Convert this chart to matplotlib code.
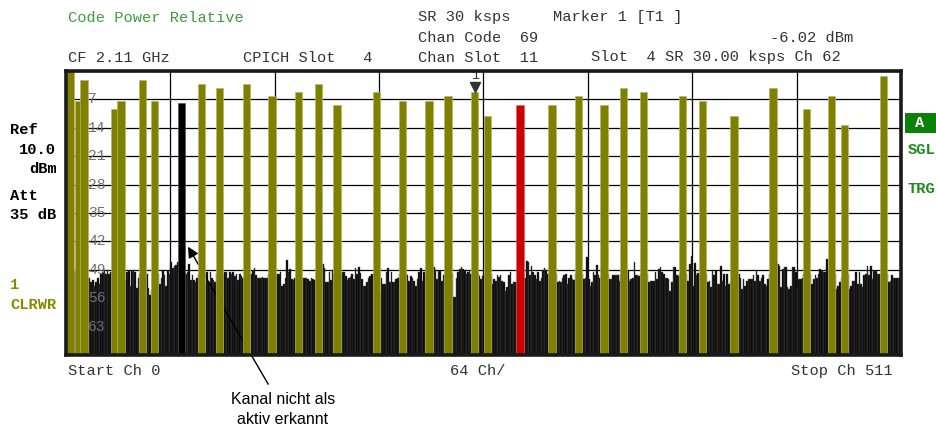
import numpy as np
import matplotlib
matplotlib.use("Agg")
import matplotlib.pyplot as plt
from matplotlib import transforms

# ---------------- data ----------------
n_channels = 512
ref_top, ref_bottom = 0, -70
grid_step_db = 7
grid_step_ch = 64

active_channels = [2.6, 7.7, 11.0, 30.0, 33.8, 47.0, 54.4,
                   83.0, 94.3, 110.7, 126.4, 142.5, 154.7, 166.2, 190.2, 206.5, 222.6, 234.2, 250.6, 258.3,
                   298.0, 314.3, 329.8, 342.0, 354.2, 378.0, 390.4, 409.7, 433.6, 454.0, 469.5, 477.5, 501.4]
active_levels = [0.0, -7.3, -2.3, -9.3, -7.3, -2.3, -7.3,
                 -3.3, -4.3, -3.3, -6.2, -5.2, -3.3, -8.3, -5.2, -7.3, -7.3, -6.2, -5.2, -11.2,
                 -8.3, -6.2, -8.3, -4.3, -5.2, -6.2, -7.3, -11.2, -4.3, -9.3, -6.2, -13.2, -1.2]

undetected_channels = [70.7]
undetected_levels = [-7.9]

selected_channels = [278.4]
selected_levels = [-8.3]

marker_channel = 250.6
marker_level = -5.2

noise_levels = [
    -50, -50, -50, -50, -50, -49.6, -49.6, -50, -50, -50, -50, -50, -50, -51,        # 0-13
    -51, -52, -51.5, -53, -52, -51,                                                   # 14-19
    -52.5, -50, -49.5, -49, -50, -49, -50, -49.5, -51,                                # 20-28
    -50, -50, -50, -50, -50, -50,                                                     # 29-34
    -52.5, -51.5, -49.5, -49.3, -53, -49.3, -49, -49.5, -53.5, -51,                   # 35-44
    -50, -50, -50, -50, -50,                                                          # 45-49
    -53.5, -55.3, -54,                                                                # 50-52
    -50, -50, -50, -50,                                                               # 53-56
    -52.5, -51, -49, -50.4, -53, -49.2, -50, -47, -48.5, -48, -47.7, -47,             # 57-68
    -50, -50, -50, -50,                                                               # 69-72
    -50, -49.5, -47.5, -51.5, -50.4, -51.5, -52, -51,                                 # 73-80
    -50, -50, -50, -50,                                                               # 81-84
    -52.5, -49.5, -52, -49.5, -51, -51.5, -52,                                        # 85-91
    -50, -50, -50, -50, -50,                                                          # 92-96
    -49.5, -49.5, -51, -49.5, -50, -49.5, -50.5, -50, -51.5, -50, -50.5, -51,         # 97-108
    -50, -50, -50, -50,                                                               # 109-112
    -50, -49.3, -48.5, -50.4, -51, -51, -51, -50.8, -51, -51, -51,                    # 113-123
    -50, -50, -50, -50, -50,                                                          # 124-128
    -50, -50, -49.6, -52.9, -52.5, -51, -46.7, -49.5, -48.7, -51.3, -51.5, -51,       # 129-140
    -50, -50, -50, -50,                                                               # 141-144
    -51, -51, -51, -51.3, -51.7, -51, -51.3, -51.5,                                   # 145-152
    -50, -50, -50, -50,                                                               # 153-156
    -47.5, -48.5, -52, -52, -49.5, -51.5, -49,                                        # 157-163
    -50, -50, -50, -50, -50,                                                          # 164-168
    -49.5, -49.5, -50.5, -51.5, -51, -50.7, -50, -51.3, -48.5, -50,
    -48.2, -49.8, -51.3, -53, -53, -52, -51, -50.5, -50,                              # 169-187
    -50, -50, -50, -50,                                                               # 188-191
    -54.5, -51, -52.5, -52.5, -49.6, -48.5, -52, -49.6, -52, -52, -51.3, -51,         # 192-203
    -50, -50, -50, -50, -50,                                                          # 204-208
    -50.2, -51.7, -50.5, -51, -51.7, -53, -51.3, -49.6, -48.5, -51.7, -49.6, -50,     # 209-220
    -50, -50, -50, -50,                                                               # 221-224
    -48.4, -49, -51.3, -49.3, -49.3, -51.7, -50.4,                                    # 225-231
    -50, -50, -50, -50, -50,                                                          # 232-236
    -55.8, -55.8, -51, -49.6, -48.8, -48.4, -48.8, -49.3, -50, -49.6, -49.3, -50,     # 237-248
    -50, -50, -50, -50,                                                               # 249-252
    -50.5, -51.3, -50.5,                                                              # 253-255
    -50, -50, -50, -50, -50,                                                          # 256-260
    -52.5, -51.3, -51.7, -50.4, -50.7, -50.4, -51.7, -52, -54.2, -53.3,
    -50.4, -49.6, -52.5, -52, -52, -52,                                               # 261-276
    -50, -50, -50, -50,                                                               # 277-280
    -51, -46.8, -47, -50.4, -48, -49.6, -50.4, -51.3, -49.6, -51.7, -51, -49,
    -48.5, -49, -50,                                                                  # 281-295
    -50, -50, -50, -50, -50,                                                          # 296-300
    -52, -51.7, -52, -51, -50.4, -50, -52.5, -51, -50.2, -51.3, -51.5,                # 301-311
    -50, -50, -50, -50, -50,                                                          # 312-316
    -51.3, -51, -45.8, -51.3, -52.9, -52, -49.6, -50.4, -47.7, -50.2, -51,            # 317-327
    -50, -50, -50, -50, -50,                                                          # 328-332
    -51.3, -51.3, -50.4, -50.4, -50.4, -50.4, -51.7,                                  # 333-339
    -50, -50, -50, -50,                                                               # 340-343
    -49, -51.7, -51.3, -51, -47, -50.2, -50.2, -50.5,                                 # 344-351
    -50, -50, -50, -50, -50,                                                          # 352-356
    -52, -51.7, -51.7, -51.7, -49.6, -51.3, -48.8, -48.4, -49.6, -50,
    -51, -51, -51.3, -54.2, -52, -48.4, -48.4, -50.4, -50.5,                          # 357-375
    -50, -50, -50, -50, -50,                                                          # 376-380
    -51.7, -47.6, -45.5, -52.9, -47.3, -50.2, -49.8,                                  # 381-387
    -50, -50, -50, -50, -50,                                                          # 388-392
    -52, -51.7, -53.3, -49, -50.4, -49.3, -52.5, -52.5, -48, -51.7, -50, -52.9,
    -50, -52.5, -52,                                                                  # 393-407
    -50, -50, -50, -50, -50,                                                          # 408-412
    -51, -53.8, -51.3, -52.9, -51.7, -51.3, -51.3, -51.3, -50.4, -51.7, -49.3, -50.2,
    -51.7, -51, -50.4, -52.5, -52.9, -51.3,                                           # 413-430
    -50, -50, -50, -50, -50,                                                          # 431-435
    -47.6, -48, -53.3, -48.8, -48.4, -48.4, -53.3, -53.8, -52.9, -48.4, -48.4, -49.6,
    -53.8, -51.3, -51.3, -51,                                                         # 436-451
    -50, -50, -50, -50, -50,                                                          # 452-456
    -52.5, -51.3, -50.4, -51, -50, -48.8, -49.3, -49.6, -49.6, -46.3, -49,            # 457-467
    -50, -50, -50, -50,                                                               # 468-471
    -53.8, -52.9, -52, -51,                                                           # 472-475
    -50, -50, -50, -50,                                                               # 476-479
    -53.8, -52.9, -51.7, -51.7, -49.6, -52.5, -49.6, -52.5, -53.3, -50.4, -50, -48,
    -50.4, -48, -51.3, -49.3, -49.3, -50, -50,                                        # 480-498
    -50, -50, -50, -50, -50,                                                          # 499-503
    -52, -51.7, -50.4, -51, -51, -51, -51, -51,                                       # 504-511
]

y_tick_labels = ["7", "14", "21", "28", "35", "42", "49", "56", "63"]

# ---------------- figure ----------------
W, H = 937, 430
fig = plt.figure(figsize=(W / 100, H / 100), dpi=100)
fig.patch.set_facecolor("white")


def fp(x, y):
    return (x / W, 1 - y / H)


left, right, top, bottom = 66, 901, 71, 355
ax = fig.add_axes([left / W, 1 - bottom / H, (right - left) / W, (bottom - top) / H])
ax.set_xlim(0, n_channels)
ax.set_ylim(ref_bottom, ref_top)
ax.set_xticks(np.arange(0, n_channels + 1, grid_step_ch))
ax.set_yticks(np.arange(ref_bottom, ref_top + 1, grid_step_db))
ax.tick_params(length=0, labelbottom=False, labelleft=False)
ax.grid(True, color="black", lw=0.9)
ax.set_axisbelow(True)
for s in ax.spines.values():
    s.set_color("#1a1a1a")
    s.set_linewidth(2.6)
    s.set_zorder(10)

olive = "#808000"
bar_w = 4.5

# noise floor (code channels not in use)
nx = np.arange(len(noise_levels)) + 0.5
nl = np.array(noise_levels)
ax.bar(nx, nl - ref_bottom, bottom=ref_bottom, width=1.0, color="#000000",
       edgecolor="#4a4a4a", linewidth=0.3, zorder=2)

# y level labels inside the diagram
for lab, lv in zip(y_tick_labels, np.arange(-grid_step_db, ref_bottom, -grid_step_db)):
    ax.text(13.6, lv, lab, color="#707070", fontsize=10.5, family="Liberation Mono",
            ha="left", va="center", zorder=3)

# active channels
for c, lv in zip(active_channels, active_levels):
    ax.bar(c, lv - ref_bottom, bottom=ref_bottom, width=bar_w, color=olive,
           edgecolor="#b5b56a", linewidth=0.5, zorder=4)
ax.bar(undetected_channels, np.array(undetected_levels) - ref_bottom, bottom=ref_bottom,
       width=bar_w, color="black", edgecolor="#555555", linewidth=0.5, zorder=4)
ax.bar(selected_channels, np.array(selected_levels) - ref_bottom, bottom=ref_bottom,
       width=bar_w, color="#cc0000", edgecolor="#dd6666", linewidth=0.5, zorder=4)

# marker 1
mk_tr = transforms.offset_copy(ax.transData, fig=fig, x=0, y=5, units="dots")
ax.plot([marker_channel], [marker_level], marker="v", color="#333333", ms=7,
        transform=mk_tr, zorder=6, clip_on=False)
tx_tr = transforms.offset_copy(ax.transData, fig=fig, x=0, y=16, units="dots")
ax.text(marker_channel, marker_level, "1", transform=tx_tr, ha="center", va="center",
        fontsize=9.5, family="Liberation Mono", color="#333333", zorder=6)

# ---------------- header / side texts ----------------
mono = "Liberation Mono"
fs = 11.1
fig.text(*fp(68, 17.5), "Code Power Relative", family=mono, fontsize=fs, color="#3c9c3c", va="center")
fig.text(*fp(418, 17.5), "SR 30 ksps", family=mono, fontsize=fs, color="#333333", va="center")
fig.text(*fp(553, 17.5), "Marker 1 [T1 ]", family=mono, fontsize=fs, color="#333333", va="center")
fig.text(*fp(418, 37.5), "Chan Code  69", family=mono, fontsize=fs, color="#333333", va="center")
fig.text(*fp(853, 37.5), "-6.02 dBm", family=mono, fontsize=fs, color="#333333", va="center", ha="right")
fig.text(*fp(68, 57.5), "CF 2.11 GHz", family=mono, fontsize=fs, color="#333333", va="center")
fig.text(*fp(243, 57.5), "CPICH Slot   4", family=mono, fontsize=fs, color="#333333", va="center")
fig.text(*fp(418, 57.5), "Chan Slot  11", family=mono, fontsize=fs, color="#333333", va="center")
fig.text(*fp(591, 57.5), "Slot  4 SR 30.00 ksps Ch 62", family=mono, fontsize=fs, color="#333333", va="center")

fig.text(*fp(68, 371), "Start Ch 0", family=mono, fontsize=fs, color="#333333", va="center")
fig.text(*fp(450, 371), "64 Ch/", family=mono, fontsize=fs, color="#333333", va="center")
fig.text(*fp(893, 371), "Stop Ch 511", family=mono, fontsize=fs, color="#333333", va="center", ha="right")

bold = dict(family=mono, fontsize=fs, fontweight="bold", va="center")
fig.text(*fp(10, 130), "Ref", color="black", **bold)
fig.text(*fp(19, 149.5), "10.0", color="black", **bold)
fig.text(*fp(29, 168.5), "dBm", color="black", **bold)
fig.text(*fp(10, 195.5), "Att", color="black", **bold)
fig.text(*fp(10, 215), "35 dB", color="black", **bold)
fig.text(*fp(10, 285), "1", color="#8a8a00", **bold)
fig.text(*fp(10, 305), "CLRWR", color="#8a8a00", **bold)

fig.patches.append(plt.Rectangle(fp(905, 133), 32 / W, 20 / H, transform=fig.transFigure,
                                 facecolor="#0a820a", edgecolor="none"))
fig.text(*fp(920, 123), "A", color="white", ha="center", **bold)
fig.text(*fp(908, 150), "SGL", color="#1a8c1a", **bold)
fig.text(*fp(908, 189), "TRG", color="#1a8c1a", **bold)

# annotation
ax.annotate("Kanal nicht als\naktiv erkannt", xy=(74.8, -43.3), xycoords="data",
            xytext=fp(283, 409.5), textcoords="figure fraction",
            ha="center", va="center", fontsize=11.5, family="Liberation Sans",
            color="black", linespacing=1.45, annotation_clip=False,
            arrowprops=dict(arrowstyle="-|>", color="black", lw=1.0,
                            mutation_scale=16, shrinkA=4, shrinkB=0))

fig.savefig("out.png", dpi=100)
